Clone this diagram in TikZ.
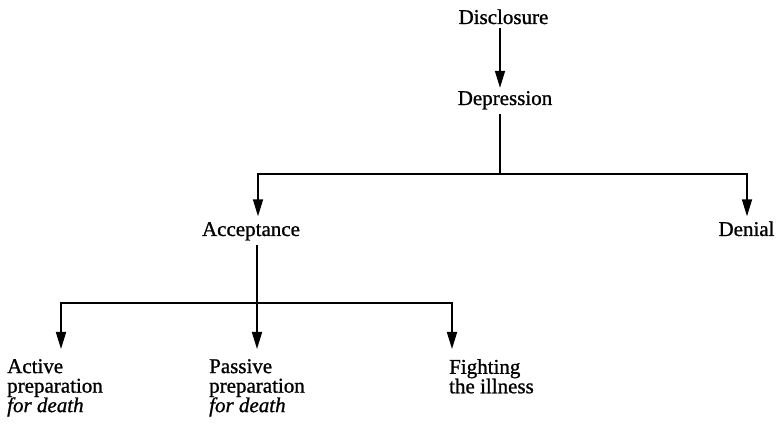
\documentclass[tikz,border=0pt]{standalone}
\usepackage{fontspec}
\setmainfont{Liberation Serif}[UprightFeatures={FakeBold=1}, ItalicFeatures={FakeBold=1}]
\usetikzlibrary{arrows.meta}
\begin{document}
\begin{tikzpicture}[x=1pt,y=-1pt,
  lbl/.style={inner sep=0pt, font=\fontsize{21}{19}\selectfont, text height=14pt, text depth=4pt},
  mlbl/.style={inner sep=0pt, font=\fontsize{21}{19.5}\selectfont, align=left, anchor=north west},
  plain/.style={line width=1.7pt},
  conn/.style={line width=1.7pt, -{Triangle[length=17pt,width=10pt]}}]
\useasboundingbox (0,0) rectangle (779,427);
\node[lbl, anchor=base] (disc) at (503.5,24) {Disclosure};
\node[lbl, anchor=base] (depr) at (505,105) {Depression};
\node[lbl, anchor=base] (acc) at (251,236) {Acceptance};
\node[lbl, anchor=base] (den) at (746.5,236) {Denial};
\node[mlbl] (act) at (7,359) {Active\\preparation\\\textit{for death}};
\node[mlbl] (pas) at (209,359) {Passive\\preparation\\\textit{for death}};
\node[mlbl] (fig) at (449,359) {Fighting\\the illness};
\coordinate (b1) at (500,174);
\coordinate (bl) at (258,174);
\coordinate (br) at (747,174);
\coordinate (c1) at (257,303);
\coordinate (cl) at (61,303);
\coordinate (cr) at (452,303);
\draw[conn, shorten >=3pt] (disc.south -| b1) -- (depr.north -| b1);
\draw[plain, shorten <=5pt] (depr.south -| b1) -- (b1);
\draw[conn, shorten >=5.5pt] (b1) -- (bl) -- (bl |- acc.north);
\draw[conn, shorten >=5.5pt] (b1) -- (br) -- (br |- den.north);
\draw[plain, shorten <=5pt] (acc.south -| c1) -- (c1);
\draw[conn, shorten >=10pt] (c1) -- (cl) -- (cl |- act.north);
\draw[conn, shorten >=10pt] (c1) -- (c1 |- pas.north);
\draw[conn, shorten >=10pt] (c1) -- (cr) -- (cr |- fig.north);
\end{tikzpicture}
\end{document}
